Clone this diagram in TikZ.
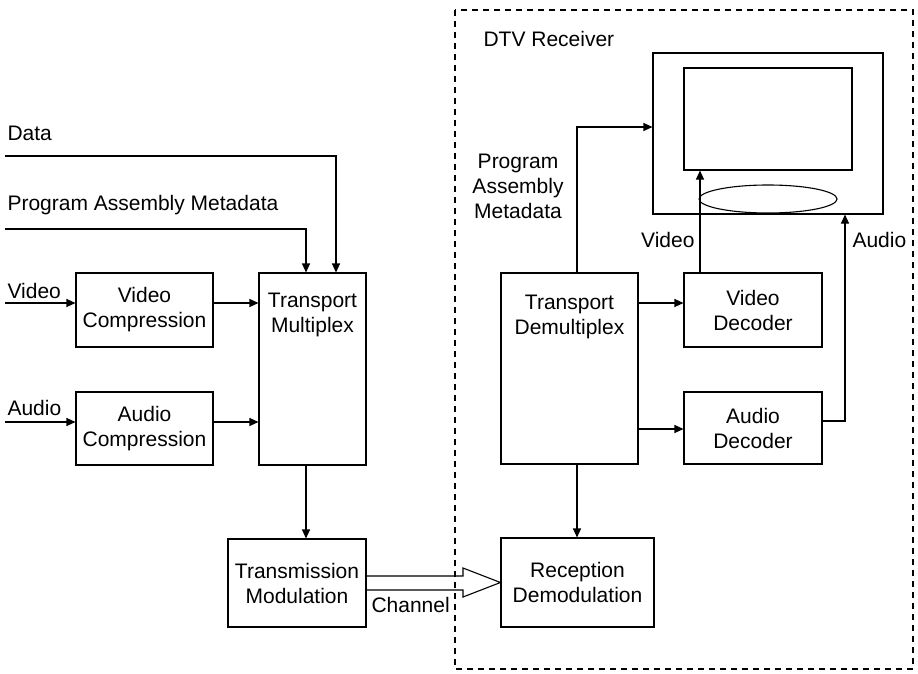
\documentclass[tikz,border=0pt]{standalone}
\usepackage{fontspec}
\setmainfont{Liberation Sans}
\usetikzlibrary{arrows.meta,shapes.geometric}
\begin{document}
\begin{tikzpicture}[x=1pt,y=-1pt,line width=1.1pt,
  every node/.style={font=\fontsize{21}{25}\selectfont},
  blk/.style={draw,inner sep=0pt,align=center},
  lbl/.style={inner sep=0pt,align=center},
  arr/.style={-{Triangle[length=9pt,width=8pt]}},
  rxbox/.style={dash pattern=on 6pt off 5pt}]
\useasboundingbox (0,0) rectangle (918,674);

% transmitter side
\node[blk,minimum width=137pt,minimum height=74pt] (vc) at (144.5,310) {Video\\Compression};
\node[blk,minimum width=137pt,minimum height=73pt] (ac) at (144.5,428.5) {Audio\\Compression};
\node[blk,minimum width=107pt,minimum height=192pt] (tm) at (312.5,369) {};
\node[lbl] (tmtext) at (312.5,315) {Transport\\Multiplex};
\node[blk,minimum width=138pt,minimum height=88pt] (txm) at (297,583) {Transmission\\Modulation};

% receiver side
\draw[rxbox] (455,10) rectangle (913,669);
\node[lbl,anchor=base west] (dtv) at (483,47) {DTV Receiver};
\node[blk,minimum width=137pt,minimum height=191pt] (td) at (569.5,368.5) {};
\node[lbl] (tdtext) at (569.5,317) {Transport\\Demultiplex};
\node[blk,minimum width=138pt,minimum height=74pt] (vd) at (753,310) {Video\\Decoder};
\node[blk,minimum width=138pt,minimum height=72pt] (ad) at (753,428) {Audio\\Decoder};
\node[blk,minimum width=153pt,minimum height=89pt] (rd) at (577.5,582.5) {Reception\\Demodulation};

% television set: cabinet, screen and speaker
\node[blk,minimum width=230pt,minimum height=161pt] (tv) at (768,133.5) {};
\node[blk,minimum width=168pt,minimum height=102pt] (scr) at (768,119) {};
\node[blk,ellipse,minimum width=138pt,minimum height=28pt] (spk) at (768,199) {};

% input labels
\node[lbl,anchor=base west] (datalbl) at (7,140) {Data};
\node[lbl,anchor=base west] (pamlbl) at (7,210) {Program Assembly Metadata};
\node[lbl,anchor=base west] (vidlbl) at (7,298) {Video};
\node[lbl,anchor=base west] (audlbl) at (7,415) {Audio};
\node[lbl,anchor=base west] (chlbl) at (371,612) {Channel};
\node[lbl] (pamrx) at (518,186) {Program\\Assembly\\Metadata};
\node[lbl,anchor=base east] (vidrx) at (695,247) {Video};
\node[lbl,anchor=base west] (audrx) at (852,247) {Audio};

% free ends of the inputs
\coordinate (datain) at (5,156);
\coordinate (pamin) at (5,229);
\coordinate (vidin) at (5,303);
\coordinate (audin) at (5,422);

% transmitter connectors
\draw[arr] (datain) -| (336,0 |- tm.north);
\draw[arr] (pamin) -| (306,0 |- tm.north);
\draw[arr] (vidin) -- (vidin -| vc.west);
\draw[arr] (audin) -- (audin -| ac.west);
\draw[arr] (vc.east |- vidin) -- (tm.west |- vidin);
\draw[arr] (ac.east |- audin) -- (tm.west |- audin);
\draw[arr] (306,0 |- tm.south) -- (306,0 |- txm.north);

% channel (hollow arrow)
\draw[line join=miter] (txm.east |- 0,576) -- (463,576) -- (463,568) -- (rd.west)
  -- (463,597) -- (463,590) -- (txm.east |- 0,590);

% receiver connectors
\draw[arr] (577,0 |- td.north) |- (tv.west |- 0,127);
\draw[arr] (td.east |- 0,303) -- (vd.west |- 0,303);
\draw[arr] (td.east |- 0,429) -- (ad.west |- 0,429);
\draw[arr] (577,0 |- td.south) -- (577,0 |- rd.north);
\draw[arr] (700,0 |- vd.north) -- (700,0 |- scr.south);
\draw[arr] (ad.east |- 0,421) -| (845,0 |- tv.south);
\end{tikzpicture}
\end{document}
